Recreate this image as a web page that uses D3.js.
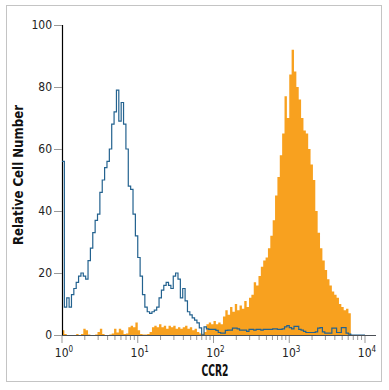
<!DOCTYPE html>
<html>
<head>
<meta charset="utf-8">
<script src="https://d3js.org/d3.v7.min.js"></script>
<style>
  body { margin: 0; background: #fff; }
  text { font-family: "Liberation Sans Narrow", "DejaVu Sans Condensed", "Roboto Condensed", sans-serif; font-stretch: condensed; }
</style>
</head>
<body>
<script>
// histogram channels: 32 bins per decade, 10^0 .. 10^4
var binsPerDecade = 32;
var isotype = [56, 9, 12, 9, 13, 15, 17, 19, 20, 19, 18, 24, 28, 33, 37, 39,
  46, 50, 54, 56, 60, 68, 72, 79, 69, 75, 68, 60, 48, 47, 39, 32,
  25, 19, 13, 9, 7.5, 7, 7.5, 8, 9, 12, 14.5, 16, 17, 16, 15, 19,
  20, 18, 12, 15, 11, 7.5, 6.5, 5.5, 4.8, 3.9, 2.3, 0, 2.6, 2, 1.8, 1.8,
  1.8, 1.5, 0.8, 0.6, 0.6, 1.5, 1.6, 1.6, 2.2, 2.2, 2, 1.6, 1.6, 1.6, 1.2, 1.8,
  1.8, 1.6, 1.8, 1.8, 1.6, 1.8, 1.8, 1.8, 1.8, 2, 2, 1.8, 1.8, 2, 2.6, 3,
  2.4, 2, 2.8, 2.8, 1.8, 1.6, 1.2, 0.8, 0.8, 0.8, 0.8, 1, 2.2, 2.4, 1, 0.6,
  0.6, 0.6, 2.2, 2.2, 0.8, 0.8, 2.4, 2.4, 0.6, 0.3, 0, 0, 0, 0, 0, 0];
var ccr2 = [1.5, 0.3, 0, 0, 0, 0, 0.3, 0, 0.3, 2, 1.5, 0.2, 0, 0, 0.2, 1,
  2, 0.3, 0, 0, 0.2, 0.5, 2, 0.8, 2, 1.5, 0.3, 0.5, 2.5, 3, 2.5, 4,
  1.5, 0.3, 0.2, 0.2, 0.3, 1, 2.5, 3, 2.5, 3.5, 2.5, 3, 2, 3, 2.5, 3,
  2, 2.5, 2, 2.5, 3, 2, 2.5, 1.5, 2, 1, 0.5, 0.4, 1, 3.5, 4, 3.5,
  4.5, 3.5, 4, 3.5, 6, 8, 6.5, 9, 7.5, 10, 8, 9.5, 8.5, 11, 9, 12,
  13, 17, 16, 19, 22, 24, 25, 28, 32, 37, 45, 51, 58, 65, 77, 70,
  84, 92, 85, 80, 76, 70, 66, 65, 60, 55, 50, 40, 33, 28, 24, 21,
  18, 16, 14, 13, 12, 10, 9, 8, 8.5, 7, 0, 0, 0, 0, 0, 0];
var yTicks = [0, 20, 40, 60, 80, 100];
var xDecades = [0, 1, 2, 3, 4];

var width = 389, height = 390;
var svg = d3.select("body").append("svg").attr("width", width).attr("height", height);

svg.append("rect")
  .attr("x", 6.5).attr("y", 5.5).attr("width", 375).attr("height", 376)
  .attr("fill", "none").attr("stroke", "#c4c4c4");

var x = d3.scaleLog().domain([1, 1e4]).range([62, 365]);
var y = d3.scaleLinear().domain([0, 100]).range([335, 25]);

function steps(vals) {
  var pts = vals.map(function (v, i) { return { e: Math.pow(10, i / binsPerDecade), v: v }; });
  pts.push({ e: 1e4, v: vals[vals.length - 1] });
  return pts;
}

// filled CCR2 histogram
svg.append("path")
  .datum(steps(ccr2))
  .attr("fill", "#f8a11f")
  .attr("d", d3.area().curve(d3.curveStepAfter)
    .x(function (d) { return x(d.e); })
    .y0(y(0))
    .y1(function (d) { return y(d.v); }));

// y axis
var yAxis = svg.append("g")
  .attr("transform", "translate(62,0)")
  .call(d3.axisLeft(y).tickValues(yTicks).tickSize(8).tickPadding(2));
yAxis.select(".domain").attr("stroke", "#000").attr("stroke-width", 1.2);
yAxis.selectAll(".tick line").attr("stroke", "#999");
yAxis.selectAll(".tick text").attr("font-size", 12).attr("fill", "#222");

// x axis: major + minor ticks
var minor = [];
xDecades.slice(0, 4).forEach(function (d) {
  for (var k = 2; k < 10; k++) minor.push(k * Math.pow(10, d));
});
var xg = svg.append("g").attr("transform", "translate(0,335)");
xg.selectAll("line.minor").data(minor).enter().append("line")
  .attr("x1", function (d) { return x(d); }).attr("x2", function (d) { return x(d); })
  .attr("y1", 0).attr("y2", 5).attr("stroke", "#999");
xg.selectAll("line.major").data(xDecades).enter().append("line")
  .attr("x1", function (d) { return x(Math.pow(10, d)); }).attr("x2", function (d) { return x(Math.pow(10, d)); })
  .attr("y1", 0).attr("y2", 8).attr("stroke", "#999");
var lab = xg.selectAll("text.lab").data(xDecades).enter().append("text")
  .attr("x", function (d) { return x(Math.pow(10, d)) + 2; })
  .attr("y", 22)
  .attr("text-anchor", "middle")
  .attr("font-size", 12).attr("fill", "#222");
lab.append("tspan").text("10");
lab.append("tspan").attr("font-size", 8).attr("dy", -5).text(function (d) { return d; });

// isotype control outline
svg.append("path")
  .datum(steps(isotype))
  .attr("fill", "none")
  .attr("stroke", "#23628f")
  .attr("stroke-width", 1.2)
  .attr("d", d3.line().curve(d3.curveStepAfter)
    .x(function (d) { return x(d.e); })
    .y(function (d) { return y(d.v); }));

svg.append("line")
  .attr("x1", 62).attr("x2", 376).attr("y1", 335.5).attr("y2", 335.5)
  .attr("stroke", "#4a4f55").attr("stroke-width", 1.2);

svg.append("text")
  .attr("transform", "translate(23,175) rotate(-90)")
  .attr("text-anchor", "middle")
  .attr("font-size", 14).attr("font-weight", "bold").attr("fill", "#111")
  .attr("textLength", 140).attr("lengthAdjust", "spacingAndGlyphs")
  .text("Relative Cell Number");

svg.append("text")
  .attr("x", 215).attr("y", 376)
  .attr("text-anchor", "middle")
  .attr("font-size", 16).attr("font-weight", "bold").attr("fill", "#111")
  .attr("textLength", 27).attr("lengthAdjust", "spacingAndGlyphs")
  .text("CCR2");
</script>
</body>
</html>
